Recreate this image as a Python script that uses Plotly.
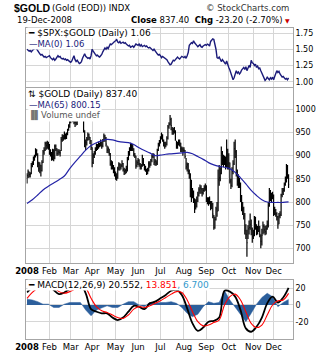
import plotly.graph_objects as go
import pandas as pd

# ---------------- data ----------------
holidays = ["2008-01-21", "2008-02-18", "2008-03-21", "2008-05-26",
            "2008-07-04", "2008-09-01", "2008-11-27"]
dates = [d for d in pd.bdate_range("2008-01-02", "2008-12-19")
         if d.strftime("%Y-%m-%d") not in holidays]

gold_close = [
    857, 865, 859, 860, 878, 882, 893, 896, 910, 912, 884, 872, 880, 868, 885, 908, 912, 926, 922, 926, 924,
    908, 906, 893, 912, 895, 920, 915, 905, 908, 907, 906, 935, 940, 938, 948, 940, 946, 955, 964, 972,
    982, 985, 980, 972, 972, 970, 975, 986, 996, 1000, 1002, 995, 955, 920, 928, 935, 945, 940, 932, 918,
    885, 900, 905, 912, 922, 918, 925, 924, 928, 922, 932, 942, 938, 925, 912, 915, 905, 882, 883, 878, 870, 865,
    856, 852, 872, 880, 875, 878, 883, 870, 866, 868, 872, 893, 905, 912, 920, 918, 915, 903, 900, 878, 885,
    890, 882, 876, 878, 897, 882, 873, 872, 863, 868, 883, 880, 890, 898, 902, 886, 888, 884, 912, 924, 930,
    938, 945, 935, 928, 922, 925, 938, 962, 968, 978, 965, 955, 952, 958, 935, 920, 925, 930, 928, 915, 914, 912,
    912, 898, 876, 880, 866, 860, 848, 815, 824, 805, 790, 798, 802, 815, 826, 830, 828, 820, 825, 830, 832,
    808, 802, 800, 806, 792, 795, 774, 745, 762, 785, 780, 848, 852, 862, 905, 890, 886, 892, 882, 912, 882,
    885, 845, 836, 866, 882, 915, 908, 860, 845, 842, 840, 805, 788, 785, 770, 738, 730, 712, 742, 745, 752, 738, 725,
    728, 760, 752, 735, 742, 745, 730, 715, 728, 748, 740, 736, 742, 750, 792, 820, 815, 812, 816,
    778, 782, 775, 768, 752, 770, 772, 815, 822, 825, 838, 848, 872, 860, 837.4,
]
gold_high = [
    862, 870, 866, 864, 884, 888, 898, 902, 916, 914, 905, 887, 886, 880, 890, 912, 918, 930, 930, 932, 930,
    925, 914, 908, 915, 914, 924, 924, 916, 914, 914, 912, 940, 946, 945, 952, 948, 950, 958, 968, 976,
    988, 990, 990, 985, 978, 975, 980, 990, 1000, 1006, 1012, 1002, 995, 955, 935, 940, 950, 948, 940, 934,
    918, 905, 910, 918, 926, 925, 930, 928, 935, 930, 936, 948, 945, 940, 922, 920, 915, 906, 890, 888, 880, 875,
    866, 862, 876, 886, 884, 882, 890, 884, 874, 872, 878, 897, 910, 918, 928, 925, 925, 916, 906, 900, 890,
    895, 892, 884, 882, 902, 895, 882, 878, 872, 874, 888, 888, 893, 903, 906, 904, 893, 890, 915, 928, 934,
    942, 950, 946, 935, 930, 930, 942, 966, 972, 988, 982, 962, 960, 962, 955, 932, 930, 935, 935, 928, 920, 918,
    918, 912, 895, 885, 884, 870, 862, 848, 830, 825, 808, 806, 812, 822, 832, 838, 836, 830, 830, 836, 840,
    836, 810, 810, 812, 802, 802, 798, 772, 768, 790, 800, 870, 880, 875, 920, 910, 902, 900, 898, 935, 915,
    905, 885, 850, 875, 890, 930, 935, 912, 870, 860, 852, 842, 815, 800, 790, 776, 752, 740, 750, 760, 775, 762, 745,
    740, 770, 768, 752, 748, 760, 748, 730, 742, 758, 752, 748, 750, 760, 800, 830, 826, 820, 822,
    816, 790, 785, 778, 770, 776, 780, 818, 830, 830, 842, 855, 882, 880, 860,
]
gold_low = [
    840, 852, 853, 853, 860, 875, 880, 889, 896, 900, 875, 865, 862, 855, 866, 884, 902, 910, 913, 915, 913,
    902, 898, 889, 890, 888, 892, 910, 900, 900, 902, 898, 910, 930, 932, 935, 935, 936, 944, 954, 960,
    970, 978, 972, 968, 962, 965, 966, 975, 985, 990, 995, 985, 950, 918, 912, 922, 932, 934, 925, 912,
    875, 882, 895, 902, 910, 912, 915, 918, 920, 915, 918, 930, 930, 920, 906, 905, 900, 878, 870, 870, 862, 855,
    848, 846, 850, 868, 868, 870, 875, 866, 858, 860, 862, 866, 890, 900, 910, 910, 910, 898, 895, 872, 875,
    880, 876, 870, 870, 876, 878, 868, 865, 858, 860, 866, 874, 878, 886, 895, 880, 878, 878, 880, 910, 920,
    926, 935, 930, 920, 915, 918, 922, 935, 958, 965, 955, 945, 945, 948, 932, 915, 915, 922, 920, 908, 908, 900,
    906, 894, 870, 866, 860, 850, 810, 800, 808, 798, 776, 784, 788, 800, 812, 818, 818, 812, 816, 822, 824,
    800, 795, 792, 795, 782, 785, 765, 740, 742, 760, 768, 780, 835, 845, 860, 880, 875, 880, 870, 875, 870,
    870, 840, 828, 832, 860, 880, 895, 855, 835, 830, 830, 800, 780, 772, 762, 730, 720, 682, 720, 730, 740, 728, 712,
    720, 726, 740, 728, 730, 735, 724, 700, 706, 730, 732, 728, 730, 740, 745, 790, 802, 800, 806,
    770, 772, 768, 760, 742, 752, 765, 770, 810, 815, 822, 835, 842, 850, 830,
]

spx_gold_ratio = [
    1.50, 1.49, 1.47, 1.48, 1.46, 1.48, 1.49, 1.51, 1.53, 1.50, 1.47, 1.45, 1.43, 1.41, 1.42, 1.40, 1.38, 1.39, 1.37, 1.38, 1.39,
    1.40, 1.37, 1.35, 1.34, 1.36, 1.33, 1.35, 1.37, 1.40, 1.38, 1.39, 1.36, 1.35, 1.36, 1.34, 1.35, 1.33, 1.34, 1.32, 1.31,
    1.30, 1.32, 1.36, 1.40, 1.34, 1.31, 1.33, 1.30, 1.28, 1.29, 1.31, 1.36, 1.40, 1.43, 1.39, 1.38, 1.36, 1.37, 1.35, 1.40,
    1.50, 1.47, 1.43, 1.42, 1.40, 1.41, 1.39, 1.38, 1.40, 1.42, 1.46, 1.49, 1.52, 1.50, 1.53, 1.51, 1.55, 1.58, 1.57, 1.59, 1.60, 1.62,
    1.63, 1.65, 1.61, 1.60, 1.62, 1.59, 1.60, 1.61, 1.59, 1.60, 1.58, 1.57, 1.55, 1.56, 1.53, 1.54, 1.55, 1.53, 1.56, 1.58, 1.57,
    1.56, 1.58, 1.55, 1.57, 1.54, 1.55, 1.56, 1.54, 1.55, 1.53, 1.52, 1.53, 1.51, 1.50, 1.48, 1.50, 1.47, 1.46, 1.43, 1.41, 1.42,
    1.40, 1.37, 1.39, 1.38, 1.36, 1.35, 1.34, 1.31, 1.28, 1.26, 1.27, 1.31, 1.33, 1.32, 1.34, 1.37, 1.38, 1.36, 1.35, 1.37, 1.39, 1.38,
    1.37, 1.39, 1.36, 1.40, 1.45, 1.56, 1.58, 1.60, 1.59, 1.63, 1.60, 1.57, 1.56, 1.54, 1.55, 1.57, 1.54, 1.53, 1.55, 1.56, 1.57,
    1.56, 1.58, 1.57, 1.55, 1.62, 1.64, 1.66, 1.65, 1.58, 1.50, 1.37, 1.36, 1.38, 1.33, 1.31, 1.34, 1.32, 1.30, 1.27, 1.32, 1.25,
    1.22, 1.18, 1.14, 1.08, 1.03, 1.06, 1.12, 1.17, 1.13, 1.15, 1.12, 1.14, 1.18, 1.20, 1.22, 1.19, 1.23, 1.17, 1.20, 1.25, 1.22, 1.33, 1.29,
    1.28, 1.25, 1.27, 1.22, 1.24, 1.20, 1.21, 1.17, 1.13, 1.10, 1.06, 1.02, 1.04, 1.07, 1.05, 1.03, 1.06, 1.04, 1.07,
    1.03, 1.08, 1.12, 1.17, 1.14, 1.16, 1.12, 1.10, 1.07, 1.08, 1.06, 1.04, 1.05, 1.03, 1.06,
]

# indicator values read every 5th trading day
sample_idx = list(range(0, 246, 5))
gold_ma65 = [797, 805, 815, 826, 834, 841, 848, 856, 872, 886,
             899, 912, 922, 928, 932, 935, 934, 931, 929, 928,
             924, 917, 911, 906, 900, 901, 903, 904, 905, 906,
             907, 904, 898, 892, 885, 880, 877, 875, 872, 864,
             852, 839, 825, 814, 805, 800, 799, 799, 799, 800.15]
macd_line = [15, 21, 24, 23, 24, 18, 13, 15, 19, 22,
             25, 14, -5, -8, -10, -10, -15, -18, -15, -8,
             -1, -2, -5, 2, 4, 8, 12, 17, 18, 12,
             -4, -22, -31, -27, -20, -19, -15, 17, 16, 10,
             -6, -28, -32, -26, -15, 2, 10, 3, 9, 20.552]
macd_signal = [8, 15, 20, 22, 23, 21, 16, 14, 16, 19,
               22, 20, 8, -2, -7, -9, -12, -15, -16, -12,
               -5, -2, -3, -1, 2, 5, 9, 13, 16, 15,
               6, -8, -20, -25, -24, -21, -18, 0, 10, 13,
               6, -8, -22, -27, -24, -12, 0, 5, 6, 13.851]
macd_hist = [m - s for m, s in zip(macd_line, macd_signal)]

month_text = ["<b>2008</b>", "Feb", "Mar", "Apr", "May", "Jun", "Jul",
              "Aug", "Sep", "Oct", "Nov", "Dec"]

# ---------------- helpers ----------------
W, H = 332, 355
n = min(len(dates), len(gold_close), len(gold_high), len(gold_low))
day = list(range(len(dates)))
month_pos = [i for i in day if i == 0 or dates[i].month != dates[i - 1].month]

FONT = "DejaVu Sans"
GRID = "#d6d6d6"
BORDER = "#a6a6a6"
X_RANGE = [-0.5, 249.0]
XDOM = [16 / W, 291.5 / W]


def py(px):
    return 1 - px / H


def px_x(px):
    return px / W


# daily high-low bars with a close tick
bar_x, bar_y = [], []
for i in range(n):
    bar_x += [i, i, None, i, i + 0.5, None]
    bar_y += [gold_low[i], gold_high[i], None, gold_close[i], gold_close[i], None]

fig = go.Figure()

# panel 1: ratio
fig.add_trace(go.Scatter(x=day, y=spx_gold_ratio, mode="lines",
                         line=dict(color="#1b1b7a", width=1.4),
                         xaxis="x", yaxis="y", hoverinfo="skip"))
# panel 2: gold
fig.add_trace(go.Scatter(x=bar_x, y=bar_y, mode="lines",
                         line=dict(color="black", width=1.2),
                         xaxis="x2", yaxis="y2", hoverinfo="skip"))
fig.add_trace(go.Scatter(x=sample_idx, y=gold_ma65, mode="lines",
                         line=dict(color="#2323a6", width=1.2, shape="spline"),
                         xaxis="x2", yaxis="y2", hoverinfo="skip"))
# panel 3: MACD
fig.add_trace(go.Scatter(x=sample_idx, y=macd_hist, mode="lines", fill="tozeroy",
                         fillcolor="#2c5f9c", line=dict(color="#2c5f9c", width=0.5),
                         xaxis="x3", yaxis="y3", hoverinfo="skip"))
fig.add_trace(go.Scatter(x=sample_idx, y=macd_line, mode="lines",
                         line=dict(color="black", width=1.8, shape="spline"),
                         xaxis="x3", yaxis="y3", hoverinfo="skip"))
fig.add_trace(go.Scatter(x=sample_idx, y=macd_signal, mode="lines",
                         line=dict(color="#ff0000", width=1.1, shape="spline"),
                         xaxis="x3", yaxis="y3", hoverinfo="skip"))


def xaxis(anchor, labels):
    return dict(domain=XDOM, range=X_RANGE, anchor=anchor,
                tickmode="array", tickvals=month_pos, ticktext=month_text,
                showticklabels=labels, ticks="",
                tickfont=dict(family=FONT, size=8.5, color="black"),
                showgrid=True, gridcolor=GRID, gridwidth=1,
                showline=True, mirror=True, linecolor=BORDER, linewidth=1,
                zeroline=False, fixedrange=True)


def yaxis(anchor, dom, rng, vals, texts):
    return dict(domain=dom, range=rng, anchor=anchor, side="right",
                tickmode="array", tickvals=vals, ticktext=texts, ticks="",
                tickfont=dict(family=FONT, size=8, color="black"),
                showgrid=True, gridcolor=GRID, gridwidth=1,
                showline=True, mirror=True, linecolor=BORDER, linewidth=1,
                zeroline=False, fixedrange=True)


ratio_ticks = [1.00, 1.25, 1.50, 1.75]
gold_ticks = [700, 750, 800, 850, 900, 950, 1000]
macd_ticks = [-20, 0, 20]

fig.update_layout(
    width=W, height=H, margin=dict(l=0, r=0, t=0, b=0),
    paper_bgcolor="white", plot_bgcolor="white", showlegend=False,
    xaxis=xaxis("y", False),
    xaxis2=xaxis("y2", True),
    xaxis3=xaxis("y3", True),
    yaxis=yaxis("x", [py(86.5), py(28)], [0.926, 1.827], ratio_ticks,
                ["%.2f" % v for v in ratio_ticks]),
    yaxis2=yaxis("x2", [py(262.7), py(88)], [669, 1046], gold_ticks,
                 [str(v) for v in gold_ticks]),
    yaxis3=yaxis("x3", [py(339), py(279.5)], [-40.7, 30.5], macd_ticks,
                 [str(v) for v in macd_ticks]),
)

ann = []


def text(x, y, t, size=9, color="black", anchor="left", bg=None, family=FONT):
    d = dict(x=px_x(x), y=py(y), xref="paper", yref="paper", text=t,
             showarrow=False, xanchor=anchor, yanchor="middle",
             font=dict(family=family, size=size, color=color), borderpad=0)
    if bg:
        d["bgcolor"] = bg
    ann.append(d)


text(2, 8, "<b>$GOLD</b>", size=10.5, family="Liberation Sans")
text(41, 8.5, "(Gold (EOD)) INDX", size=8.5)
text(289, 8.5, "© StockCharts.com", size=8.5, color="#333333", anchor="right")
text(5, 20, "19-Dec-2008", size=8.5)
text(282, 20, "<b>Close</b> 837.40  <b>Chg</b> -23.20 (-2.70%)", size=8.5, anchor="right")
text(286, 20.5, "▼", size=6, color="#cc0000", anchor="center")

text(17, 33, "<b>━</b> $SPX:$GOLD (Daily) 1.06", size=9, bg="white")
text(18, 44, "—MA(0) 1.06", size=8.5, color="#1b1b7a", bg="white")

text(17, 94.5, "⇅ $GOLD (Daily) 837.40", size=9, bg="white")
text(18, 105, "—MA(65) 800.15", size=8.5, color="#1b1b7a", bg="white")
text(17, 115, "<span style='color:#777777'>▐▌</span>Volume undef", size=8.5,
     color="#555555", bg="white")

text(17, 284.5, "<b>━</b> MACD(12,26,9) 20.552, <span style='color:#ff0000'>13.851</span>"
     "<span style='color:#3399cc'>, 6.700</span>", size=9, bg="white")

fig.update_layout(annotations=ann)
fig.write_html("out.html")
